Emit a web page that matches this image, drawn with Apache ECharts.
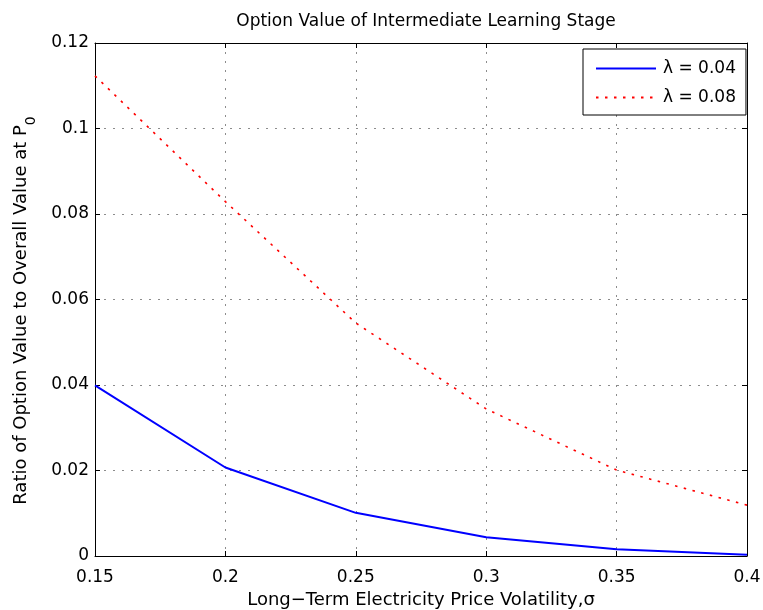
<!DOCTYPE html>
<html>
<head>
<meta charset="utf-8">
<script src="https://cdn.jsdelivr.net/npm/echarts@6/dist/echarts.min.js"></script>
<style>
  html, body { margin: 0; padding: 0; background: #fff; }
  #chart { width: 763px; height: 610px; }
</style>
</head>
<body>
<div id="chart"></div>
<script>
// Volatility levels (sigma) on the x axis
const sigma = [0.15, 0.2, 0.25, 0.3, 0.35, 0.4];
// Ratio of option value to overall value at P0, one array per learning rate
const ratioLambda004 = [0.0399, 0.0207, 0.0101, 0.0044, 0.0016, 0.0003];
const ratioLambda008 = [0.1123, 0.0829, 0.0545, 0.0344, 0.0201, 0.0119];
const seriesNames = ['\u03bb = 0.04', '\u03bb = 0.08'];

const FONT = 'DejaVu Sans, Liberation Sans, sans-serif';

function pairs(xs, ys) { return xs.map((x, i) => [x, ys[i]]); }

const chart = echarts.init(document.getElementById('chart'), null, { renderer: 'canvas' });

const gridLine = { show: true, lineStyle: { color: '#8c8c8c', type: [2, 7], width: 1 } };
const axisLine = { show: true, onZero: false, lineStyle: { color: '#000', width: 1 } };
const inTick = { show: true, inside: true, length: 5, lineStyle: { color: '#000', width: 1 } };
const tickFmt = v => String(+v.toFixed(2));

chart.setOption({
  animation: false,
  backgroundColor: '#fff',
  textStyle: { fontFamily: FONT },
  title: {
    text: 'Option Value of Intermediate Learning Stage',
    left: 421, top: 8, textAlign: 'center',
    textStyle: { fontFamily: FONT, fontSize: 17, fontWeight: 'normal', color: '#000' }
  },
  grid: {
    left: 95, right: 16, top: 43, bottom: 54, show: false,
    containLabel: false, outerBoundsMode: 'none'
  },
  legend: {
    orient: 'vertical',
    left: 583, top: 49,
    data: seriesNames,
    itemWidth: 60, itemHeight: 14, itemGap: 12, itemStyle: { opacity: 0 },
    padding: [11, 10, 9, 12],
    borderColor: '#000', borderWidth: 1, backgroundColor: '#fff',
    textStyle: { fontFamily: FONT, fontSize: 17, color: '#000', padding: [0, 0, 0, 2] }
  },
  xAxis: [{
    type: 'value', min: 0.15, max: 0.4, interval: 0.05,
    position: 'bottom',
    name: 'Long\u2212Term Electricity Price Volatility,\u03c3',
    nameLocation: 'middle', nameGap: 35,
    nameTextStyle: { fontFamily: FONT, fontSize: 18, color: '#000' },
    axisLine: axisLine, axisTick: inTick,
    axisLabel: { color: '#000', fontSize: 17, fontFamily: FONT, margin: 13, formatter: tickFmt },
    splitLine: gridLine
  }, {
    type: 'value', min: 0.15, max: 0.4, interval: 0.05,
    position: 'top',
    axisLine: axisLine, axisTick: inTick,
    axisLabel: { show: false }, splitLine: { show: false }
  }],
  yAxis: [{
    type: 'value', min: 0, max: 0.12, interval: 0.02,
    position: 'left',
    name: 'Ratio of Option Value to Overall Value at P{sub|0}',
    nameLocation: 'middle', nameGap: 57, nameRotate: 90,
    nameTextStyle: {
      fontFamily: FONT, fontSize: 18, color: '#000',
      padding: [0, 22, 0, 0],
      rich: { sub: { fontFamily: FONT, fontSize: 14, color: '#000', padding: [20, 0, 0, 0] } }
    },
    axisLine: axisLine, axisTick: inTick,
    axisLabel: { color: '#000', fontSize: 17, fontFamily: FONT, margin: 6, formatter: tickFmt },
    splitLine: gridLine
  }, {
    type: 'value', min: 0, max: 0.12, interval: 0.02,
    position: 'right',
    axisLine: axisLine, axisTick: inTick,
    axisLabel: { show: false }, splitLine: { show: false }
  }],
  series: [{
    name: seriesNames[0], type: 'line',
    data: pairs(sigma, ratioLambda004),
    showSymbol: false, symbol: 'none',
    lineStyle: { color: '#0000ff', width: 2 },
    itemStyle: { color: '#0000ff' }
  }, {
    name: seriesNames[1], type: 'line',
    data: pairs(sigma, ratioLambda008),
    showSymbol: false, symbol: 'none',
    lineStyle: { color: '#ff0000', width: 1.6, type: [2.5, 6.5] },
    itemStyle: { color: '#ff0000' }
  }]
});
</script>
</body>
</html>
